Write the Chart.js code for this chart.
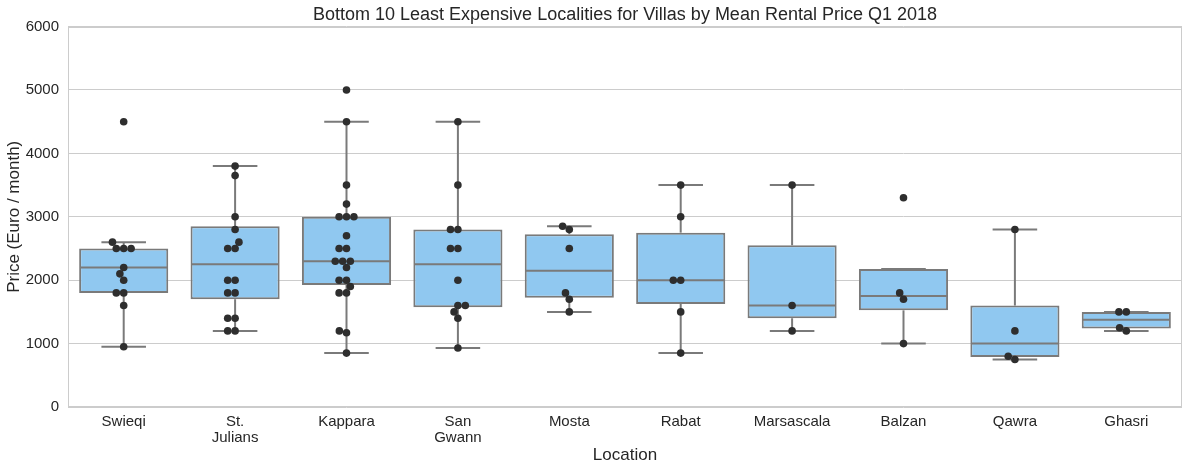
<!DOCTYPE html>
<html><head><meta charset="utf-8">
<script src="https://cdn.jsdelivr.net/npm/chart.js@4/dist/chart.umd.min.js"></script>
<style>html,body{margin:0;padding:0;background:#fff}#wrap{width:1190px;height:470px}</style>
</head><body><div id="wrap"><canvas id="c"></canvas></div>
<script>
// ---- data ----
const categories = [['Swieqi'], ['St.', 'Julians'], ['Kappara'], ['San', 'Gwann'], ['Mosta'], ['Rabat'], ['Marsascala'], ['Balzan'], ['Qawra'], ['Ghasri']];
const q1 = [1800, 1700, 1925, 1575, 1725, 1625, 1400, 1525, 787.5, 1237.5];
const medians = [2200, 2250, 2300, 2250, 2150, 2000, 1600, 1750, 1000, 1375];
const q3 = [2500, 2850, 3000, 2800, 2725, 2750, 2550, 2175, 1600, 1500];
const whiskerLow = [950, 1200, 850, 930, 1500, 850, 1200, 1000, 750, 1200];
const whiskerHigh = [2600, 3800, 4500, 4500, 2850, 3500, 3500, 2175, 2800, 1500];

const swieqi = [4500, 2600, 2500, 2500, 2500, 2200, 2100, 2000, 1800, 1800, 1600, 950];
const stJulians = [3800, 3650, 3000, 2800, 2600, 2500, 2500, 2000, 2000, 1800, 1800, 1400, 1400, 1200, 1200];
const kappara = [5000, 4500, 3500, 3200, 3000, 3000, 3000, 2700, 2500, 2500, 2300, 2300, 2300, 2200, 2000, 2000, 1900, 1800, 1800, 1200, 1170, 850];
const sanGwann = [4500, 3500, 2800, 2800, 2500, 2500, 2000, 1600, 1600, 1500, 1400, 930];
const mosta = [2850, 2800, 2500, 1800, 1700, 1500];
const rabat = [3500, 3000, 2000, 2000, 1500, 850];
const marsascala = [3500, 1600, 1200];
const balzan = [3300, 1800, 1700, 1000];
const qawra = [2800, 1200, 800, 750];
const ghasri = [1500, 1500, 1250, 1200];
const prices = [swieqi, stJulians, kappara, sanGwann, mosta, rabat, marsascala, balzan, qawra, ghasri];

const yTicks = [0, 1000, 2000, 3000, 4000, 5000, 6000];

// ---- styling ----
const FONT = '"Liberation Sans", Arial, sans-serif';
const TEXT = '#262626';
const GREY = '#7a7a7a';
const BOXFILL = 'rgb(144,200,240)';
const DOT = '#2e2e2e';

// simple beeswarm layout (pixel estimates -> category units)
const PX_PER_CAT = 111.4, PX_PER_UNIT = 380 / 6000, DIAM = 7.4;
const swarmPoints = [];
prices.forEach((vals, ci) => {
  const sorted = vals.slice().sort((a, b) => a - b);
  const placed = [];
  sorted.forEach(v => {
    const py = v * PX_PER_UNIT;
    const cands = [0];
    placed.forEach(p => {
      const dy = Math.abs(p.py - py);
      if (dy < DIAM) {
        const dx = Math.sqrt(DIAM * DIAM - dy * dy);
        cands.push(p.px - dx, p.px + dx);
      }
    });
    cands.sort((a, b) => Math.abs(a) - Math.abs(b) || a - b);
    let pick = 0;
    for (const c of cands) {
      if (placed.every(p => Math.hypot(p.px - c, p.py - py) >= DIAM - 0.01)) { pick = c; break; }
    }
    placed.push({ px: pick, py });
    swarmPoints.push({ x: ci + pick / PX_PER_CAT, y: v });
  });
});

const framePlugin = {
  id: 'frame',
  beforeDatasetsDraw(chart) {
    const { ctx, chartArea: a } = chart;
    ctx.save();
    ctx.strokeStyle = '#cccccc';
    ctx.lineWidth = 1;
    ctx.strokeRect(Math.round(a.left) + 0.5, Math.round(a.top) + 0.5, Math.round(a.right - a.left) - 1, Math.round(a.bottom - a.top) - 1);
    ctx.restore();
  }
};

const boxPlugin = {
  id: 'boxlines',
  afterDatasetDraw(chart, args) {
    if (args.index !== 0) return;
    const { ctx, scales: { y } } = chart;
    const meta = chart.getDatasetMeta(0);
    ctx.save();
    ctx.strokeStyle = GREY;
    ctx.lineWidth = 2;
    const seg = (x1, y1, x2, y2) => { ctx.beginPath(); ctx.moveTo(x1, y1); ctx.lineTo(x2, y2); ctx.stroke(); };
    meta.data.forEach((bar, i) => {
      const cx = bar.x, w = bar.width, cap = w / 4;
      const yq1 = y.getPixelForValue(q1[i]), yq3 = y.getPixelForValue(q3[i]);
      const ylo = y.getPixelForValue(whiskerLow[i]), yhi = y.getPixelForValue(whiskerHigh[i]);
      seg(cx, yq3, cx, yhi);
      seg(cx, yq1, cx, ylo);
      seg(cx - cap, yhi, cx + cap, yhi);
      seg(cx - cap, ylo, cx + cap, ylo);
      const ym = y.getPixelForValue(medians[i]);
      seg(cx - w / 2 + 1, ym, cx + w / 2 - 1, ym);
    });
    ctx.restore();
  }
};

new Chart(document.getElementById('c'), {
  data: {
    labels: categories,
    datasets: [
      {
        type: 'bar',
        data: q1.map((v, i) => [v, q3[i]]),
        backgroundColor: BOXFILL,
        borderColor: GREY,
        borderWidth: 2,
        borderSkipped: false,
        grouped: false,
        categoryPercentage: 0.8,
        barPercentage: 1,
        xAxisID: 'x', yAxisID: 'y',
        order: 2
      },
      {
        type: 'scatter',
        data: swarmPoints,
        backgroundColor: DOT,
        borderWidth: 0,
        pointRadius: 3.8,
        pointHoverRadius: 3.8,
        xAxisID: 'x2', yAxisID: 'y',
        order: 1
      }
    ]
  },
  options: {
    responsive: true,
    maintainAspectRatio: false,
    animation: false,
    events: [],
    layout: { padding: { left: 0, right: 8, top: 0, bottom: 0 } },
    plugins: {
      legend: { display: false },
      tooltip: { enabled: false },
      title: {
        display: true,
        fullSize: false,
        text: 'Bottom 10 Least Expensive Localities for Villas by Mean Rental Price Q1 2018',
        color: TEXT,
        font: { family: FONT, size: 18, weight: 'normal' },
        padding: { top: 4, bottom: 1 }
      }
    },
    scales: {
      x: {
        type: 'category',
        offset: true,
        grid: { display: false },
        border: { display: false },
        ticks: { color: TEXT, font: { family: FONT, size: 15, lineHeight: 1.04 }, padding: -1, maxRotation: 0, autoSkip: false },
        title: { display: true, text: 'Location', color: TEXT, font: { family: FONT, size: 17 }, padding: { top: 0, bottom: 4 } },
        afterFit: s => { s.height = 63; }
      },
      x2: {
        type: 'linear',
        display: false,
        min: -0.5,
        max: 9.5
      },
      y: {
        min: 0,
        max: 6000,
        afterBuildTicks: s => { s.ticks = yTicks.map(v => ({ value: v })); },
        grid: { color: '#cccccc', lineWidth: 1, drawTicks: false },
        border: { display: false },
        ticks: { color: TEXT, font: { family: FONT, size: 15 }, padding: 9, callback: v => String(v) },
        title: { display: true, text: 'Price (Euro / month)', color: TEXT, font: { family: FONT, size: 17 }, padding: { top: 4, bottom: 0 } },
        afterFit: s => { s.width = 68; }
      }
    }
  },
  plugins: [framePlugin, boxPlugin]
});
</script></body></html>
